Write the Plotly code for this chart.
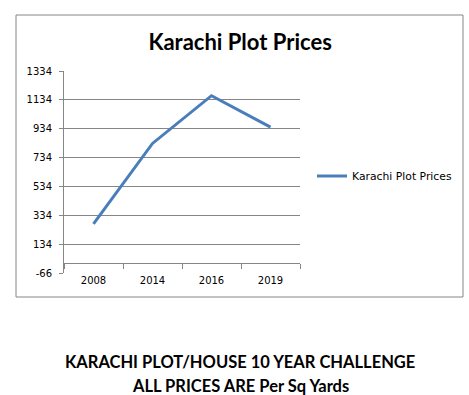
import plotly.graph_objects as go

years = ["2008", "2014", "2016", "2019"]
prices = [275, 832, 1163, 945]
series_name = "Karachi Plot Prices"
y_ticks = [-66, 134, 334, 534, 734, 934, 1134, 1334]
y_tick_text = ["-66", "134", "334", "534", "734", "934", "1134", "1334"]

W, H = 469, 395
L, R, T, B = 64, 169, 71, 122
pw, ph = W - L - R, H - T - B

def px_x(p):
    return (p - L) / pw

def px_y(p):
    return (H - B - p) / ph

ymin, ymax = y_ticks[0], y_ticks[-1]
gray = "#868686"

fig = go.Figure()
# invisible trace to activate yaxis2 grid
fig.add_trace(go.Scatter(x=years, y=prices, yaxis="y2", mode="lines",
                         line=dict(width=0), showlegend=False, hoverinfo="skip"))
fig.add_trace(go.Scatter(x=years, y=prices, mode="lines", name=series_name,
                         line=dict(color="#4a7ebb", width=3), showlegend=True))

fig.update_layout(
    width=W, height=H,
    margin=dict(l=L, r=R, t=T, b=B),
    paper_bgcolor="white", plot_bgcolor="white",
    title=dict(text="<b>Karachi Plot Prices</b>", x=0.512, xref="container", xanchor="center",
               y=1 - 42 / H, yref="container", yanchor="middle",
               font=dict(family="Lato", size=22, color="black")),
    xaxis=dict(type="category", range=[-0.5, 3.5], anchor="free",
               position=(0 - ymin) / (ymax - ymin),
               showline=True, linecolor=gray, linewidth=1,
               ticks="outside", tickson="boundaries", ticklen=5, tickcolor=gray,
               ticklabelstandoff=8,
               showgrid=False, tickfont=dict(family="DejaVu Sans", size=10, color="black")),
    yaxis=dict(range=[ymin, ymax], tickvals=y_ticks, ticktext=y_tick_text,
               showgrid=False, zeroline=False,
               showline=True, linecolor=gray, linewidth=1, ticks="outside", ticklen=4,
               tickcolor=gray, ticklabelstandoff=5,
               tickfont=dict(family="DejaVu Sans", size=10, color="black")),
    yaxis2=dict(range=[ymin, ymax], overlaying="y", tickvals=y_ticks[1:], showgrid=True,
                gridcolor=gray, gridwidth=1, showticklabels=False, zeroline=False, side="left"),
    legend=dict(x=px_x(312), y=px_y(176), xanchor="left", yanchor="middle",
                font=dict(family="DejaVu Sans", size=10.8, color="black"),
                itemwidth=30, bgcolor="rgba(0,0,0,0)"),
    showlegend=True,
)

fig.add_shape(type="rect", xref="paper", yref="paper",
              x0=px_x(16), x1=px_x(463), y0=px_y(297), y1=px_y(15),
              line=dict(color=gray, width=1), layer="below")

fig.add_annotation(text="<b>KARACHI PLOT/HOUSE 10 YEAR CHALLENGE</b>", xref="paper", yref="paper",
                   x=px_x(240), y=px_y(362), showarrow=False, xanchor="center", yanchor="middle",
                   font=dict(family="Lato", size=16.5, color="black"))
fig.add_annotation(text="<b>ALL PRICES ARE Per Sq Yards</b>", xref="paper", yref="paper",
                   x=px_x(240), y=px_y(386), showarrow=False, xanchor="center", yanchor="middle",
                   font=dict(family="Lato", size=16.5, color="black"))

fig.write_html("out.html")
